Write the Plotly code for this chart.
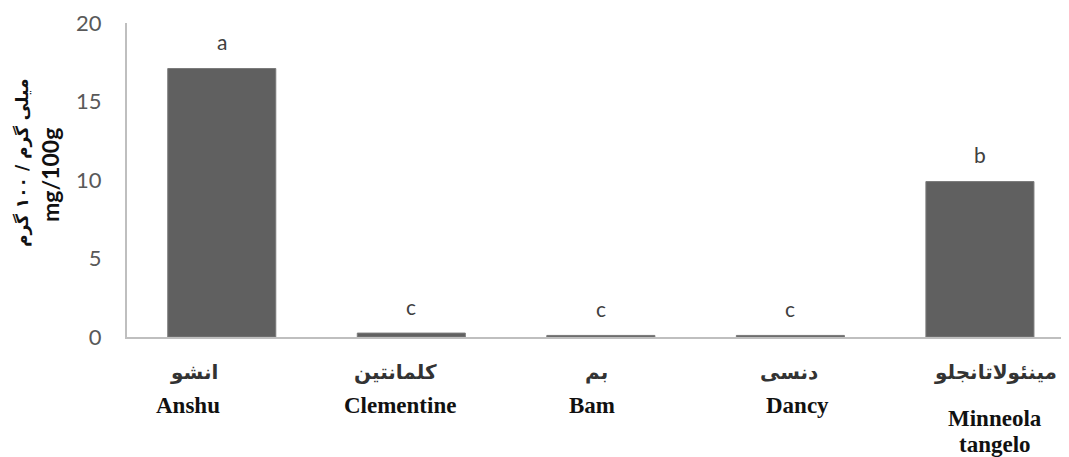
import plotly.graph_objects as go

categories = ["Anshu", "Clementine", "Bam", "Dancy", "Minneola<br>tangelo"]
persian_labels = ["انشو", "کلمانتین", "بم", "دنسی", "مینئولاتانجلو"]
values = [17.1, 0.25, 0.1, 0.1, 9.9]
letters = ["a", "c", "c", "c", "b"]
y_ticks = [0, 5, 10, 15, 20]

# horizontal pixel offsets of the pasted labels relative to bar centres (layout only)
eng_shift = [-34, -11, -9, 7, 15]
fa_shift = [-28, -16, -4, -1, 16]

x = list(range(len(categories)))

# page has an 8px body margin; compensate
OFF = 8
W, H = 1069 - OFF, 457 - OFF
top, bottom = 23, 337          # window pixel positions of plot area
plot_left, plot_right = 127, 1069

fig = go.Figure()
fig.add_trace(go.Bar(
    x=x, y=values, width=0.57,
    marker=dict(color="#606060", line=dict(color="#7a7a7a", width=1)),
    showlegend=False, hoverinfo="skip",
))

ann = []
for i, (v, l) in enumerate(zip(values, letters)):
    ann.append(dict(x=i, y=v, xref="x", yref="y", text=l, showarrow=False,
                    yshift=27, font=dict(family="Lato", size=21, color="#404040")))


def py(pix):
    return (bottom - pix) / (bottom - top)


for i, p in enumerate(persian_labels):
    ann.append(dict(x=i, y=py(372), xref="x", yref="paper", yanchor="middle",
                    xshift=fa_shift[i],
                    text="<b>" + p + "</b>", showarrow=False,
                    font=dict(family="DejaVu Sans", size=20, color="#333333")))
for i, c in enumerate(categories):
    lines = c.split("<br>")
    ypos = [405] if len(lines) == 1 else [418, 444]
    for t, yy in zip(lines, ypos):
        ann.append(dict(x=i, y=py(yy), xref="x", yref="paper", yanchor="middle",
                        xshift=eng_shift[i],
                        text="<b>" + t + "</b>", showarrow=False,
                        font=dict(family="Liberation Serif", size=23, color="#111111")))


def px(pix):
    return (pix - plot_left) / (plot_right - plot_left)


ann.append(dict(x=px(22), y=py(163), xref="paper", yref="paper", textangle=-90, showarrow=False,
                text="<b>میلی گرم / ۱۰۰ گرم</b>", xanchor="center", yanchor="middle",
                font=dict(family="DejaVu Sans", size=17, color="#111111")))
ann.append(dict(x=px(50), y=py(175), xref="paper", yref="paper", textangle=-90, showarrow=False,
                text="<b>mg/100g</b>", xanchor="center", yanchor="middle",
                font=dict(family="Lato", size=23, color="#111111")))

fig.update_layout(
    width=W, height=H,
    margin=dict(l=plot_left - OFF, r=0, t=top - OFF, b=H - (bottom - OFF)),
    paper_bgcolor="white", plot_bgcolor="white",
    xaxis=dict(range=[-0.5, 4.47], showticklabels=False, showgrid=False, zeroline=False,
               showline=True, linecolor="#bfbfbf", linewidth=2, ticks=""),
    yaxis=dict(range=[0, 20], tickvals=y_ticks, showgrid=False, zeroline=False,
               showline=True, linecolor="#bfbfbf", linewidth=2, ticks="",
               ticklabelstandoff=19,
               tickfont=dict(family="Lato", size=22, color="#595959")),
    annotations=ann,
)

fig.write_html("out.html")
